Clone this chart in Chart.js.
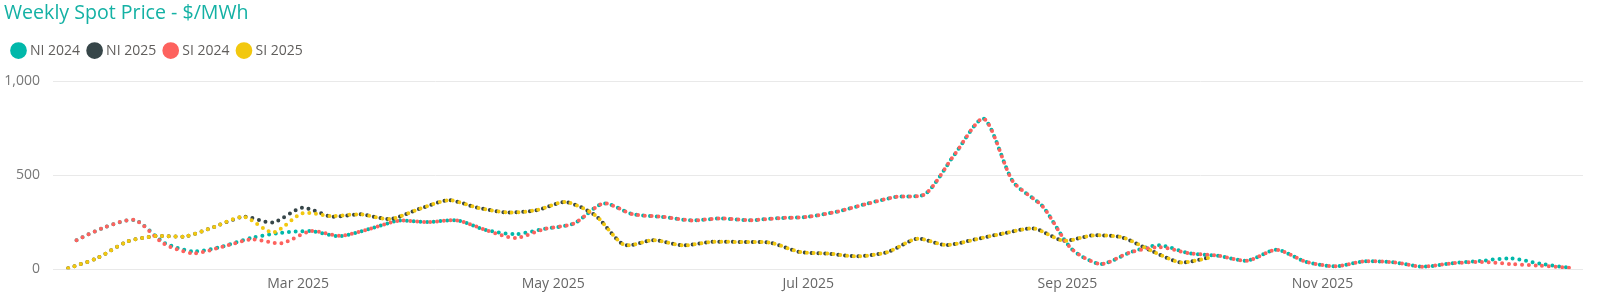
<!DOCTYPE html>
<html>
<head>
<meta charset="utf-8">
<title>Weekly Spot Price</title>
<script src="https://cdn.jsdelivr.net/npm/chart.js@4.4.1/dist/chart.umd.min.js"></script>
<style>
  html, body { margin: 0; padding: 0; background: #ffffff; }
  #chart { display: block; }
</style>
</head>
<body>
<canvas id="chart" width="1600" height="295"></canvas>
<script>
// Tanggal minggu (hari Minggu) untuk tiap seri
const weeks2024 = [
  '2024-01-07', '2024-01-14', '2024-01-21', '2024-01-28', '2024-02-04', '2024-02-11', '2024-02-18', '2024-02-25',
  '2024-03-03', '2024-03-10', '2024-03-17', '2024-03-24', '2024-03-31', '2024-04-07', '2024-04-14', '2024-04-21',
  '2024-04-28', '2024-05-05', '2024-05-12', '2024-05-19', '2024-05-26', '2024-06-02', '2024-06-09', '2024-06-16',
  '2024-06-23', '2024-06-30', '2024-07-07', '2024-07-14', '2024-07-21', '2024-07-28', '2024-08-04', '2024-08-11',
  '2024-08-18', '2024-08-25', '2024-09-01', '2024-09-08', '2024-09-15', '2024-09-22', '2024-09-29', '2024-10-06',
  '2024-10-13', '2024-10-20', '2024-10-27', '2024-11-03', '2024-11-10', '2024-11-17', '2024-11-24', '2024-12-01',
  '2024-12-08', '2024-12-15', '2024-12-22', '2024-12-29'
];
const weeks2025 = [
  '2025-01-05', '2025-01-12', '2025-01-19', '2025-01-26', '2025-02-02', '2025-02-09', '2025-02-16', '2025-02-23',
  '2025-03-02', '2025-03-09', '2025-03-16', '2025-03-23', '2025-03-30', '2025-04-06', '2025-04-13', '2025-04-20',
  '2025-04-27', '2025-05-04', '2025-05-11', '2025-05-18', '2025-05-25', '2025-06-01', '2025-06-08', '2025-06-15',
  '2025-06-22', '2025-06-29', '2025-07-06', '2025-07-13', '2025-07-20', '2025-07-27', '2025-08-03', '2025-08-10',
  '2025-08-17', '2025-08-24', '2025-08-31', '2025-09-07', '2025-09-14', '2025-09-21', '2025-09-28', '2025-10-05'
];

// Harga spot mingguan ($/MWh)
const ni2024 = [155, 226, 261, 141, 95, 122, 168, 194, 203, 176, 214, 258, 251, 260, 208, 187, 215, 244, 350, 293,
  279, 260, 270, 261, 272, 279, 307, 348, 385, 400, 610, 800, 465, 336, 108, 28, 90, 128, 86, 72,
  46, 104, 40, 16, 42, 37, 14, 32, 45, 58, 30, 8];
const ni2025 = [5, 60, 146, 177, 175, 226, 279, 249, 327, 280, 292, 267, 321, 367, 327, 302, 314, 357, 288, 130,
  155, 127, 146, 145, 141, 92, 83, 69, 92, 162, 129, 159, 192, 217, 152, 180, 170, 99, 37, 62];
const si2024 = [155, 226, 261, 134, 85, 120, 159, 138, 203, 178, 214, 258, 251, 260, 208, 166, 215, 244, 350, 293,
  279, 260, 270, 261, 272, 279, 307, 348, 385, 400, 610, 800, 465, 336, 108, 28, 90, 118, 86, 72,
  46, 104, 40, 16, 42, 37, 14, 32, 39, 28, 19, 8];
const si2025 = [5, 60, 146, 177, 175, 226, 279, 196, 297, 283, 292, 267, 321, 367, 327, 302, 314, 357, 288, 130,
  155, 127, 146, 145, 141, 92, 83, 69, 92, 162, 129, 159, 192, 217, 152, 180, 170, 99, 37, 62];

// Label sumbu X
const tickDates = ['2025-03-01', '2025-05-01', '2025-07-01', '2025-09-01', '2025-11-01'];
const tickLabels = ['Mar 2025', 'May 2025', 'Jul 2025', 'Sep 2025', 'Nov 2025'];

const FONT = "'Open Sans', 'Noto Sans', sans-serif";

// Hari ke-n dalam tahun (1 Jan = 0)
function dayOfYear(iso) {
  const [y, m, d] = iso.split('-').map(Number);
  return (Date.UTC(y, m - 1, d) - Date.UTC(y, 0, 1)) / 86400000;
}

function toPoints(dates, values) {
  return values.map((v, i) => ({ x: dayOfYear(dates[i]), y: v }));
}

function dotted(label, color, dates, values, order) {
  return {
    label: label,
    data: toPoints(dates, values),
    borderColor: color,
    backgroundColor: color,
    borderWidth: 4,
    borderCapStyle: 'round',
    borderDash: [0, 6.7],
    pointRadius: 0,
    pointHoverRadius: 0,
    tension: 0.25,
    fill: false,
    order: order
  };
}

// Tambah ruang di bawah legenda supaya area plot turun
const legendGap = {
  id: 'legendGap',
  afterInit(chart) {
    const fit = chart.legend.fit;
    chart.legend.fit = function () {
      fit.call(this);
      this.height += 13.6;
    };
  }
};

const ctx = document.getElementById('chart').getContext('2d');

new Chart(ctx, {
  type: 'line',
  data: {
    datasets: [
      dotted('NI 2024', '#01B8AA', weeks2024, ni2024, 4),
      dotted('NI 2025', '#374649', weeks2025, ni2025, 3),
      dotted('SI 2024', '#FD625E', weeks2024, si2024, 2),
      dotted('SI 2025', '#F2C80F', weeks2025, si2025, 1)
    ]
  },
  plugins: [legendGap],
  options: {
    responsive: false,
    animation: false,
    devicePixelRatio: 1,
    layout: { padding: { left: 4, right: 17, top: 0, bottom: 0 } },
    plugins: {
      title: {
        display: true,
        text: 'Weekly Spot Price - $/MWh',
        align: 'start',
        color: '#14B1A4',
        font: { family: FONT, size: 19.6, weight: 'normal' },
        padding: { top: 2, bottom: 8 }
      },
      legend: {
        position: 'top',
        align: 'start',
        labels: {
          usePointStyle: true,
          pointStyle: 'circle',
          boxWidth: 9,
          boxHeight: 9,
          padding: 10,
          color: '#605E5C',
          font: { family: FONT, size: 14 },
          sort: (a, b) => a.datasetIndex - b.datasetIndex
        }
      },
      tooltip: { enabled: false }
    },
    scales: {
      x: {
        type: 'linear',
        min: 0.37,
        max: 366.3,
        grid: { display: false, drawTicks: false },
        border: { display: false },
        ticks: {
          color: '#666666',
          font: { family: FONT, size: 14 },
          padding: 6,
          maxRotation: 0,
          autoSkip: false,
          callback: (value, index) => tickLabels[index]
        },
        afterBuildTicks: (axis) => {
          axis.ticks = tickDates.map(d => ({ value: dayOfYear(d) }));
        },
        afterFit: (axis) => { axis.height = 25.7; }
      },
      y: {
        min: 0,
        max: 1000,
        grid: { color: '#E9E9E9', lineWidth: 1, drawTicks: false },
        border: { display: false },
        ticks: {
          stepSize: 500,
          color: '#777777',
          font: { family: FONT, size: 14 },
          padding: 13
        },
        afterFit: (axis) => { axis.width = 49; }
      }
    }
  }
});
</script>
</body>
</html>
